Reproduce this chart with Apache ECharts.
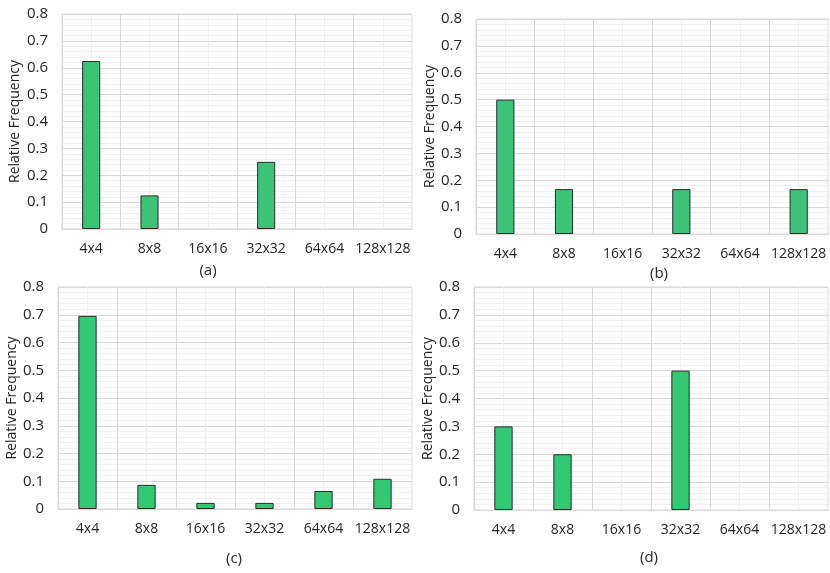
<!DOCTYPE html>
<html><head><meta charset="utf-8">
<script src="https://cdn.jsdelivr.net/npm/echarts@6/dist/echarts.min.js"></script>
<style>html,body{margin:0;padding:0;background:#fff}#c{width:830px;height:573px}</style>
</head><body><div id="c"></div>
<script>
const categories = ['4x4','8x8','16x16','32x32','64x64','128x128'];
const yTicks = [0,0.1,0.2,0.3,0.4,0.5,0.6,0.7,0.8];
const valuesA = [0.625, 0.125, 0, 0.25, 0, 0];
const valuesB = [0.5, 0.167, 0, 0.167, 0, 0.167];
const valuesC = [0.696, 0.087, 0.022, 0.022, 0.065, 0.109];
const valuesD = [0.3, 0.2, 0, 0.5, 0, 0];
const panelLabels = ['(a)','(b)','(c)','(d)'];
const yName = 'Relative Frequency';

const FONT = '"Open Sans", "Noto Sans", sans-serif';
const panels = [
  {vals: valuesA, left:62, top:14, width:350, height:215, gap:40, cap:[208,271], color:'#3bc477'},
  {vals: valuesB, left:476, top:19, width:352, height:215, gap:35, cap:[659,274], color:'#3bc477'},
  {vals: valuesC, left:58, top:287, width:354, height:222, gap:36, cap:[234,559], color:'#33c872'},
  {vals: valuesD, left:474, top:287, width:354, height:223, gap:37, cap:[649,558], color:'#33c872'}
];
const halfCats = categories.flatMap(c => [c + '_l', c + '_r']);

const grid = [], xAxis = [], yAxis = [], series = [], graphic = [];
panels.forEach((p, i) => {
  grid.push({left:p.left, top:p.top, width:p.width, height:p.height, show:true, borderColor:'#d9d9d9', borderWidth:1});
  xAxis.push({type:'category', gridIndex:i, data:categories,
    axisLine:{show:true, lineStyle:{color:'#d9d9d9'}}, axisTick:{show:false},
    axisLabel:{color:'#262626', fontSize:14, fontFamily:FONT, margin:13, interval:0},
    splitLine:{show:true, interval:0, lineStyle:{color:'#d9d9d9', width:1}}});
  xAxis.push({type:'category', gridIndex:i, data:halfCats, position:'bottom',
    axisLine:{show:false}, axisTick:{show:false}, axisLabel:{show:false},
    splitLine:{show:true, interval:(idx) => idx % 2 === 1, lineStyle:{color:'#efefef', width:1}}});
  yAxis.push({type:'value', gridIndex:i, min:yTicks[0], max:yTicks[yTicks.length-1], interval:0.1,
    name:yName, nameLocation:'middle', nameGap:p.gap,
    nameTextStyle:{color:'#262626', fontSize:14, fontFamily:FONT},
    axisLine:{show:false}, axisTick:{show:false},
    axisLabel:{color:'#262626', fontSize:15, fontFamily:FONT, margin:14},
    splitLine:{show:true, lineStyle:{color:'#d9d9d9'}},
    minorTick:{show:false, splitNumber:5},
    minorSplitLine:{show:true, lineStyle:{color:'#f0f0f0'}}});
  series.push({type:'bar', xAxisIndex:2*i, yAxisIndex:i,
    data:p.vals.map(v => v === 0 ? {value:v, itemStyle:{borderWidth:0}} : v), barWidth:'31%',
    itemStyle:{color:p.color, borderColor:'#2b2b2b', borderWidth:1}, z:3});
  graphic.push({type:'text', x:p.cap[0], y:p.cap[1], style:{text:panelLabels[i], fill:'#262626', font:'15px ' + FONT, textAlign:'center', textVerticalAlign:'middle'}});
});

const chart = echarts.init(document.getElementById('c'), null, {renderer:'canvas'});
chart.setOption({animation:false, grid, xAxis, yAxis, series, graphic});
</script></body></html>
